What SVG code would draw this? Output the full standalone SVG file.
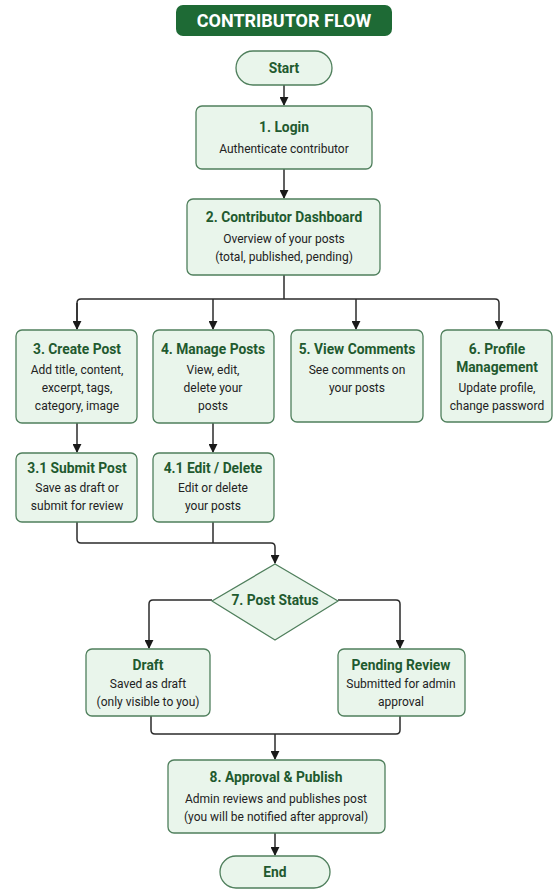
<svg xmlns="http://www.w3.org/2000/svg" width="554" height="890" viewBox="0 0 554 890">
<defs>
<style>
.box{fill:#e9f5eb;stroke:#4f7f5c;stroke-width:1.3}
.t{font-family:Roboto,"Liberation Sans",sans-serif;font-weight:bold;font-size:13.8px;fill:#1f5a2f;text-anchor:middle}
.b{font-family:Roboto,"Liberation Sans",sans-serif;font-size:12px;fill:#222;text-anchor:middle}
.c{fill:none;stroke:#2b2b2b;stroke-width:1.5;stroke-linejoin:round}
</style>
<marker id="ah" viewBox="0 0 10 10" refX="9" refY="5" markerWidth="9" markerHeight="9" markerUnits="userSpaceOnUse" orient="auto">
<path d="M0,0 L10,5 L0,10 z" fill="#1a1a1a"/>
</marker>
</defs>
<rect width="554" height="890" fill="#ffffff"/>
<g id="title">
<rect x="176" y="5" width="216" height="31" rx="7" fill="#1e6a35"/>
<text x="284" y="27" font-family="Roboto,'Liberation Sans',sans-serif" font-weight="bold" font-size="18" fill="#ffffff" text-anchor="middle">CONTRIBUTOR FLOW</text>
</g>
<g id="connectors">
<path class="c" d="M284,85 V105" marker-end="url(#ah)"/>
<path class="c" d="M284,169 V198" marker-end="url(#ah)"/>
<path class="c" d="M284,275 V299"/>
<path class="c" d="M77,329 V303 Q77,299 81,299 H495 Q499,299 499,303 V329" marker-end="url(#ah)"/>
<path class="c" d="M77,303 V329" marker-end="url(#ah)"/>
<path class="c" d="M213,299 V329" marker-end="url(#ah)"/>
<path class="c" d="M356,299 V329" marker-end="url(#ah)"/>
<path class="c" d="M77,423 V452" marker-end="url(#ah)"/>
<path class="c" d="M213,423 V452" marker-end="url(#ah)"/>
<path class="c" d="M77,522 V539 Q77,543 81,543 H271 Q275,543 275,547 V563" marker-end="url(#ah)"/>
<path class="c" d="M213,522 V543"/>
<path class="c" d="M212,600 H153 Q149,600 149,604 V648" marker-end="url(#ah)"/>
<path class="c" d="M338,600 H396 Q400,600 400,604 V648" marker-end="url(#ah)"/>
<path class="c" d="M151,716 V730 Q151,734 155,734 H396 Q400,734 400,730 V716"/>
<path class="c" d="M275,734 V759" marker-end="url(#ah)"/>
<path class="c" d="M275,833 V855" marker-end="url(#ah)"/>
</g>
<g id="start">
<rect class="box" x="236" y="51" width="96" height="34" rx="17"/>
<text class="t" x="284" y="72.5">Start</text>
</g>
<g id="login">
<rect class="box" x="196" y="106" width="176" height="63" rx="6"/>
<text class="t" x="284" y="132">1. Login</text>
<text class="b" x="284" y="153">Authenticate contributor</text>
</g>
<g id="dashboard">
<rect class="box" x="187" y="199" width="193" height="76" rx="6"/>
<text class="t" x="284" y="222">2. Contributor Dashboard</text>
<text class="b" x="284" y="243">Overview of your posts</text>
<text class="b" x="284" y="261">(total, published, pending)</text>
</g>
<g id="create">
<rect class="box" x="16" y="330" width="121" height="93" rx="6"/>
<text class="t" x="77" y="354">3. Create Post</text>
<text class="b" x="77" y="374">Add title, content,</text>
<text class="b" x="77" y="392">excerpt, tags,</text>
<text class="b" x="77" y="410">category, image</text>
</g>
<g id="manage">
<rect class="box" x="153" y="330" width="121" height="93" rx="6"/>
<text class="t" x="213" y="354">4. Manage Posts</text>
<text class="b" x="213" y="374">View, edit,</text>
<text class="b" x="213" y="392">delete your</text>
<text class="b" x="213" y="410">posts</text>
</g>
<g id="comments">
<rect class="box" x="291" y="330" width="132" height="92" rx="6"/>
<text class="t" x="357" y="354">5. View Comments</text>
<text class="b" x="357" y="374">See comments on</text>
<text class="b" x="357" y="392">your posts</text>
</g>
<g id="profile">
<rect class="box" x="441" y="330" width="111" height="92" rx="6"/>
<text class="t" x="497" y="354">6. Profile</text>
<text class="t" x="497" y="372">Management</text>
<text class="b" x="497" y="392">Update profile,</text>
<text class="b" x="497" y="410">change password</text>
</g>
<g id="submit">
<rect class="box" x="16" y="453" width="121" height="69" rx="6"/>
<text class="t" x="77" y="473">3.1 Submit Post</text>
<text class="b" x="77" y="492">Save as draft or</text>
<text class="b" x="77" y="510">submit for review</text>
</g>
<g id="editdelete">
<rect class="box" x="153" y="453" width="121" height="69" rx="6"/>
<text class="t" x="213" y="473">4.1 Edit / Delete</text>
<text class="b" x="213" y="492">Edit or delete</text>
<text class="b" x="213" y="510">your posts</text>
</g>
<g id="status">
<path class="box" d="M275,564 L338,601 L275,640 L212,601 Z" stroke-linejoin="round"/>
<text class="t" x="275" y="605">7. Post Status</text>
</g>
<g id="draft">
<rect class="box" x="86" y="649" width="124" height="67" rx="6"/>
<text class="t" x="148" y="670">Draft</text>
<text class="b" x="148" y="688">Saved as draft</text>
<text class="b" x="148" y="706">(only visible to you)</text>
</g>
<g id="pending">
<rect class="box" x="338" y="649" width="127" height="67" rx="6"/>
<text class="t" x="401" y="670">Pending Review</text>
<text class="b" x="401" y="688">Submitted for admin</text>
<text class="b" x="401" y="706">approval</text>
</g>
<g id="approval">
<rect class="box" x="168" y="760" width="217" height="73" rx="6"/>
<text class="t" x="276" y="782">8. Approval &amp; Publish</text>
<text class="b" x="276" y="803">Admin reviews and publishes post</text>
<text class="b" x="276" y="821">(you will be notified after approval)</text>
</g>
<g id="end">
<rect class="box" x="220" y="856" width="110" height="32" rx="16"/>
<text class="t" x="275" y="876.5">End</text>
</g>
</svg>
